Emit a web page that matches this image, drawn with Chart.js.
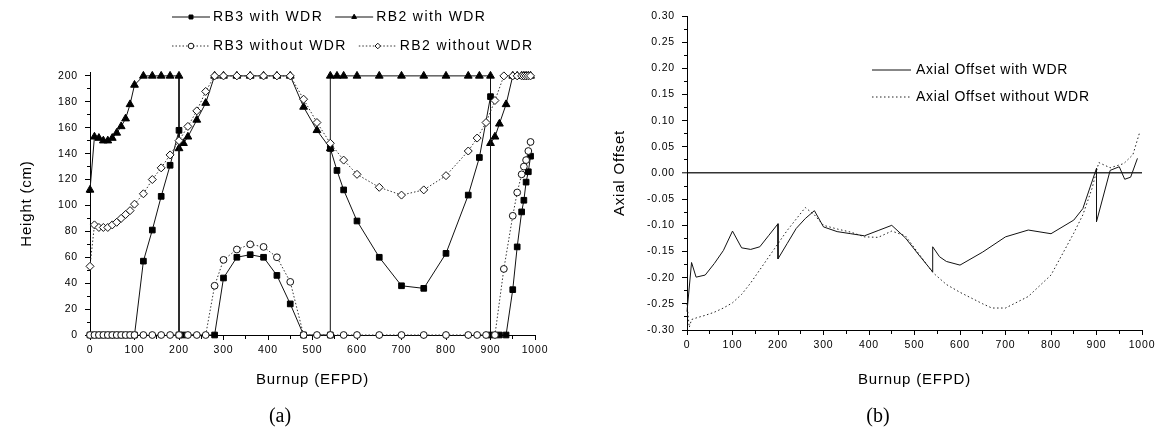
<!DOCTYPE html>
<html>
<head>
<meta charset="utf-8">
<script src="https://cdn.jsdelivr.net/npm/chart.js@4.4.1/dist/chart.umd.min.js"></script>
<style>
  body { margin: 0; background: #fff; }
  .wrap { position: relative; width: 1168px; height: 432px; }
  canvas { position: absolute; top: 0; }
  #heightChart { left: 0; }
  #offsetChart { left: 584px; }
</style>
</head>
<body>
<div class="wrap">
  <canvas id="heightChart" width="584" height="432"></canvas>
  <canvas id="offsetChart" width="584" height="432"></canvas>
</div>
<script>
/*============ DATA (a) rod bank heights ============*/
const rb3WdrX = [0,10,20,30,40,50,60,70,80,90,100,120,140,160,180,200,200,210,280,300,330,360,390,420,450,480,540,540,555,570,600,650,700,750,800,850,875,900,900,920,935,950,960,970,975,980,985,990];
const rb3WdrY = [0,0,0,0,0,0,0,0,0,0,0,57,81,107,131,158,0,0,0,44,60,62,60,46,24,0,0,144,127,112,88,60,38,36,63,108,137,184,0,0,0,35,68,95,104,118,126,138];

const rb2WdrX = [0,10,20,30,40,50,60,70,80,90,100,120,140,160,180,200,200,210,220,240,260,280,300,330,360,390,420,450,480,510,540,540,555,570,600,650,700,750,800,850,875,900,900,910,920,935,950,960,970,975,980,985,990];
const rb2WdrY = [112,153,152,150,150,152,156,161,167,178,193,200,200,200,200,200,144,148,153,166,179,200,200,200,200,200,200,200,176,158,144,200,200,200,200,200,200,200,200,200,200,200,148,153,163,178,200,200,200,200,200,200,200];

const rb3NoX = [0,10,20,30,40,50,60,70,80,90,100,120,140,160,180,200,220,240,260,280,300,330,360,390,420,450,480,510,540,570,600,650,700,750,800,850,870,890,910,930,950,960,970,975,980,985,990];
const rb3NoY = [0,0,0,0,0,0,0,0,0,0,0,0,0,0,0,0,0,0,0,38,58,66,70,68,60,41,0,0,0,0,0,0,0,0,0,0,0,0,0,51,92,110,124,130,135,142,149];

const rb2NoX = [0,10,20,30,40,50,60,70,80,90,100,120,140,160,180,200,220,240,260,280,300,330,360,390,420,450,480,510,540,570,600,650,700,750,800,850,870,890,910,930,950,960,970,975,980,985,990];
const rb2NoY = [53,85,83,83,83,85,87,90,93,96,101,109,120,129,139,150,161,173,188,200,200,200,200,200,200,200,182,164,148,135,124,114,108,112,123,142,152,164,181,200,200,200,200,200,200,200,200];

/*============ DATA (b) axial offset ============*/
const aoWdrX = [0,10,20,40,60,80,100,120,140,160,180,200,200,220,240,260,280,300,330,360,390,420,450,480,510,540,540,555,570,600,650,700,750,800,850,870,900,900,930,950,962,975,990];
const aoWdrY = [-0.265,-0.171,-0.199,-0.195,-0.173,-0.148,-0.111,-0.143,-0.146,-0.141,-0.119,-0.097,-0.164,-0.135,-0.106,-0.087,-0.072,-0.103,-0.112,-0.116,-0.120,-0.110,-0.100,-0.124,-0.157,-0.189,-0.141,-0.160,-0.169,-0.176,-0.151,-0.122,-0.109,-0.116,-0.090,-0.068,0.009,-0.093,0.005,0.012,-0.012,-0.008,0.028];

const aoNoX = [0,5,10,20,40,60,80,100,120,140,160,180,200,220,240,260,280,300,330,360,390,420,450,480,510,540,570,600,650,670,700,750,800,850,870,890,905,930,960,980,995];
const aoNoY = [-0.25,-0.295,-0.28,-0.277,-0.272,-0.266,-0.258,-0.248,-0.232,-0.21,-0.185,-0.16,-0.135,-0.11,-0.088,-0.066,-0.08,-0.1,-0.107,-0.113,-0.122,-0.123,-0.111,-0.12,-0.155,-0.19,-0.213,-0.228,-0.25,-0.258,-0.258,-0.236,-0.195,-0.115,-0.08,-0.03,0.02,0.01,0.018,0.035,0.078];

/*============ HELPERS ============*/
const SANS = '"Liberation Sans", Arial, Helvetica, sans-serif';
const tickFont = { family: SANS, size: 10.5 };
const titleFont = { family: SANS, size: 15 };

const zip = (xs, ys) => xs.map((x, i) => ({ x: x, y: ys[i] }));
const isMajor = (v, step) => Math.abs(v / step - Math.round(v / step)) < 1e-6;

// text in the original is drawn spaced out
const spacing = {
  id: 'spacing',
  beforeDraw(chart) { chart.ctx.letterSpacing = '0.8px'; }
};

// legend + panel label
const panelText = {
  id: 'panelText',
  afterDraw(chart, args, o) {
    const ctx = chart.ctx;
    const drawPoint = Chart.helpers && Chart.helpers.drawPoint;
    ctx.save();
    ctx.letterSpacing = o.spacing;
    ctx.font = '14px ' + SANS;
    ctx.textBaseline = 'middle';
    o.rows.forEach((row, r) => {
      let x = o.x;
      const y = o.y + r * o.rowGap;
      row.forEach(i => {
        const ds = chart.data.datasets[i];
        ctx.strokeStyle = ds.borderColor;
        ctx.lineWidth = 1;
        ctx.setLineDash(ds.borderDash || []);
        ctx.beginPath();
        ctx.moveTo(x, y);
        ctx.lineTo(x + o.sample, y);
        ctx.stroke();
        ctx.setLineDash([]);
        if (o.marker && drawPoint && ds.pointRadius) {
          ctx.fillStyle = ds.pointBackgroundColor;
          ctx.strokeStyle = ds.pointBorderColor;
          drawPoint(ctx, { pointStyle: ds.pointStyle, radius: o.marker, borderWidth: 1, rotation: 0 }, x + o.sample / 2, y);
        }
        ctx.fillStyle = '#000';
        ctx.textAlign = 'left';
        ctx.fillText(ds.label, x + o.sample + o.textGap, y);
        x += o.sample + o.textGap + ctx.measureText(ds.label).width + o.gap;
      });
    });
    ctx.letterSpacing = '0px';
    ctx.font = '20px "Liberation Serif", "Times New Roman", serif';
    ctx.textAlign = 'center';
    ctx.fillText(o.label, o.labelX, o.labelY);
    ctx.restore();
  }
};

function xAxis(height) {
  return {
    type: 'linear', min: 0, max: 1000,
    afterFit: s => { s.height = height; },
    ticks: { stepSize: 50, autoSkip: false, maxRotation: 0, padding: 4, font: tickFont, color: '#000',
      callback: v => isMajor(v, 100) ? v : '' },
    grid: { drawOnChartArea: false, tickLength: 5, tickColor: '#000', tickWidth: 1,
      tickBorderDash: c => (c.tick && isMajor(c.tick.value, 100)) ? [] : [3, 30] },
    border: { color: '#000', width: 1 },
    title: { display: true, text: 'Burnup (EFPD)', font: titleFont, color: '#000', padding: { top: 0, bottom: 43 } }
  };
}

/*============ CHART (a) ============*/
new Chart(document.getElementById('heightChart'), {
  type: 'line',
  data: {
    datasets: [
      { label: 'RB3 with WDR', data: zip(rb3WdrX, rb3WdrY), order: 3,
        borderColor: '#111', borderWidth: 1, pointStyle: 'rect', pointRadius: 4,
        pointBackgroundColor: '#000', pointBorderColor: '#000', pointBorderWidth: 1 },
      { label: 'RB2 with WDR', data: zip(rb2WdrX, rb2WdrY), order: 4,
        borderColor: '#111', borderWidth: 1, pointStyle: 'triangle', pointRadius: 4.5,
        pointBackgroundColor: '#000', pointBorderColor: '#000', pointBorderWidth: 1 },
      { label: 'RB3 without WDR', data: zip(rb3NoX, rb3NoY), order: 1,
        borderColor: '#333', borderWidth: 1, borderDash: [1.5, 2], pointStyle: 'circle', pointRadius: 3.4,
        pointBackgroundColor: '#fff', pointBorderColor: '#111', pointBorderWidth: 1 },
      { label: 'RB2 without WDR', data: zip(rb2NoX, rb2NoY), order: 2,
        borderColor: '#333', borderWidth: 1, borderDash: [1.5, 2], pointStyle: 'rectRot', pointRadius: 4,
        pointBackgroundColor: '#fff', pointBorderColor: '#111', pointBorderWidth: 1 }
    ]
  },
  options: {
    responsive: false,
    animation: false,
    clip: false,
    elements: { line: { tension: 0 } },
    layout: { padding: { left: 0, right: 49, top: 72, bottom: 0 } },
    plugins: {
      legend: { display: false },
      tooltip: { enabled: false },
      panelText: { x: 172, y: 17, rowGap: 29, sample: 38, textGap: 3, gap: 12, marker: 2.8, spacing: '1.4px',
        rows: [[0, 1], [2, 3]], label: '(a)', labelX: 280, labelY: 417 }
    },
    scales: {
      x: xAxis(97),
      y: {
        min: 0, max: 203,
        afterFit: s => { s.width = 90; },
        ticks: { stepSize: 10, includeBounds: false, autoSkip: false, padding: 7, font: tickFont, color: '#000',
          callback: v => isMajor(v, 20) ? v : '' },
        grid: { drawOnChartArea: false, tickLength: 5, tickColor: '#000', tickWidth: 1,
          tickBorderDash: c => (c.tick && isMajor(c.tick.value, 20)) ? [] : [0, 2, 3, 30] },
        border: { color: '#000', width: 1 },
        title: { display: true, text: 'Height (cm)', font: titleFont, color: '#000', padding: { top: 18, bottom: 0 } }
      }
    }
  },
  plugins: [spacing, panelText]
});

/*============ CHART (b) ============*/
new Chart(document.getElementById('offsetChart'), {
  type: 'line',
  data: {
    datasets: [
      { label: 'Axial Offset with WDR', data: zip(aoWdrX, aoWdrY),
        borderColor: '#111', borderWidth: 1, pointRadius: 0 },
      { label: 'Axial Offset without WDR', data: zip(aoNoX, aoNoY),
        borderColor: '#222', borderWidth: 1, borderDash: [1.5, 2.5], pointRadius: 0 }
    ]
  },
  options: {
    responsive: false,
    animation: false,
    clip: false,
    elements: { line: { tension: 0 } },
    layout: { padding: { left: 0, right: 26, top: 16, bottom: 0 } },
    plugins: {
      legend: { display: false },
      tooltip: { enabled: false },
      panelText: { x: 288, y: 70, rowGap: 27, sample: 39, textGap: 5, gap: 12, marker: 0, spacing: '0.7px',
        rows: [[0], [1]], label: '(b)', labelX: 294, labelY: 417 }
    },
    scales: {
      x: xAxis(102),
      y: {
        min: -0.3, max: 0.3,
        afterFit: s => { s.width = 103; },
        ticks: { stepSize: 0.025, autoSkip: false, padding: 7, font: tickFont, color: '#000',
          callback: v => isMajor(v, 0.05) ? (Math.abs(v) < 1e-9 ? '0.00' : v.toFixed(2)) : '' },
        grid: {
          drawOnChartArea: true,
          color: c => (c.tick && Math.abs(c.tick.value) < 1e-9) ? '#333' : 'rgba(0,0,0,0)',
          lineWidth: c => (c.tick && Math.abs(c.tick.value) < 1e-9) ? 1.6 : 1,
          tickLength: 5, tickColor: '#000', tickWidth: 1,
          tickBorderDash: c => (c.tick && isMajor(c.tick.value, 0.05)) ? [] : [0, 2, 3, 30]
        },
        border: { color: '#000', width: 1 },
        title: { display: true, text: 'Axial Offset', font: titleFont, color: '#000', padding: { top: 27, bottom: 0 } }
      }
    }
  },
  plugins: [spacing, panelText]
});
</script>
</body>
</html>
